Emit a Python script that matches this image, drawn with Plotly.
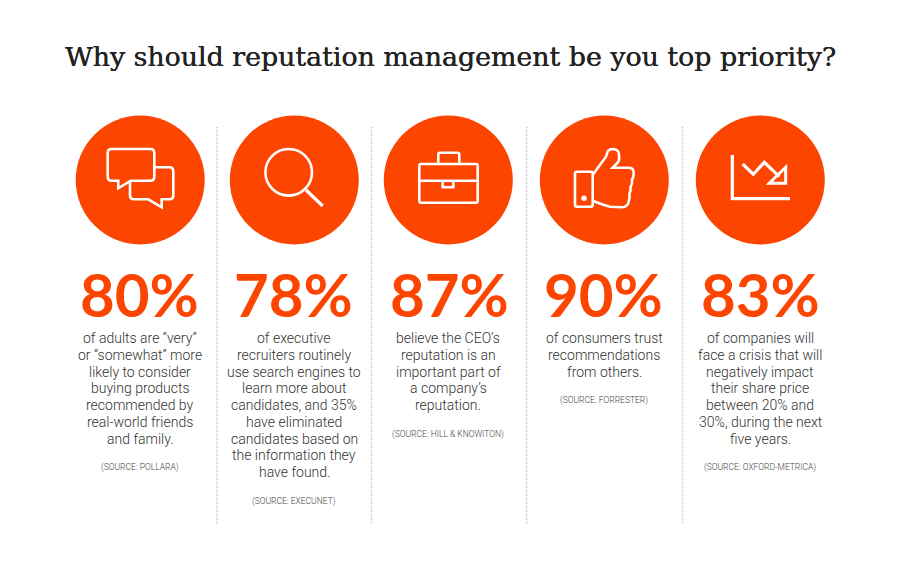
import plotly.graph_objects as go

TITLE = "Why should reputation management be you top priority?"
percent_values = [80, 78, 87, 90, 83]
descriptions = [
    ["of adults are “very”", "or “somewhat” more", "likely to consider", "buying products", "recommended by", "real-world friends", "and family."],
    ["of executive", "recruiters routinely", "use search engines to", "learn more about", "candidates, and 35%", "have eliminated", "candidates based on", "the information they", "have found."],
    ["believe the CEO’s", "reputation is an", "important part of", "a company’s", "reputation."],
    ["of consumers trust", "recommendations", "from others."],
    ["of companies will", "face a crisis that will", "negatively impact", "their share price", "between 20% and", "30%, during the next", "five years."],
]
sources = ["(SOURCE: POLLARA)", "(SOURCE: EXECUNET)", "(SOURCE: HILL & KNOWITON)", "(SOURCE: FORRESTER)", "(SOURCE: OXFORD-METRICA)"]

# layout (pixel canvas)
W, H = 900, 571
CENTERS = [140.2, 294.3, 448.3, 604.3, 760.3]
PCT_X = [139.5, 293, 449.5, 603.5, 760]
SEPARATORS = [217, 371.5, 526.7, 682.5]
ORANGE = "#FB4500"
LINE_H = 16.75

fig = go.Figure()
fig.add_trace(go.Scatter(x=CENTERS, y=[180] * 5, mode="markers", hoverinfo="skip",
                         marker=dict(size=129, color=ORANGE, line=dict(width=0))))

fig.add_annotation(x=450, y=56, text=TITLE, showarrow=False, xanchor="center", yanchor="middle",
                   font=dict(family="DejaVu Serif", size=26.8, color="#222222",
                             shadow="0.4px 0 0 #222222"))

for cx, px, v, lines, src in zip(CENTERS, PCT_X, percent_values, descriptions, sources):
    fig.add_annotation(x=px, y=294, text=f"{v}%", showarrow=False, xanchor="center", yanchor="middle",
                       font=dict(family="Lato", size=60, weight=700, color=ORANGE))
    y = 338
    for ln in lines:
        fig.add_annotation(x=cx, y=y, text=ln, showarrow=False, xanchor="center", yanchor="middle",
                           font=dict(family="Roboto", size=14, weight=300, color="#333333"))
        y += LINE_H
    fig.add_annotation(x=cx, y=y - LINE_H + 29, text=src, showarrow=False, xanchor="center", yanchor="middle",
                       font=dict(family="Roboto", size=8.5, weight=300, color="#444444"))

shapes = []
for sx in SEPARATORS:
    shapes.append(dict(type="line", x0=sx, x1=sx, y0=127, y1=525,
                       line=dict(color="#C8C8C8", width=1.6, dash="1px,1px")))

def icon(path, width=2.6, fill=None):
    return dict(type="path", path=path, line=dict(color="white", width=width),
                fillcolor=fill if fill else "rgba(0,0,0,0)")

# speech bubbles
shapes.append(icon("M111.7,149 L150.3,149 Q154.3,149 154.3,153 L154.3,176.7 Q154.3,180.7 150.3,180.7 L130.7,180.7 L118.3,188.3 L118.3,180.7 L111.7,180.7 Q107.7,180.7 107.7,176.7 L107.7,153 Q107.7,149 111.7,149 Z"))
shapes.append(icon("M154.3,167.3 L169.3,167.3 Q173.3,167.3 173.3,171.3 L173.3,195.3 Q173.3,199.3 169.3,199.3 L161.7,199.3 L161.7,207.3 L148.3,199.3 L134,199.3 Q130,199.3 130,195.3 L130,180.7"))
# magnifier
shapes.append(dict(type="circle", x0=265.4, x1=312, y0=149, y1=195.6, line=dict(color="white", width=2.6)))
shapes.append(dict(type="line", x0=306, y0=190, x1=322.7, y1=206, line=dict(color="white", width=3.2)))
# briefcase
shapes.append(icon("M421.3,164 L475.7,164 Q477.7,164 477.7,166 L477.7,200.7 Q477.7,202.7 475.7,202.7 L421.3,202.7 Q419.3,202.7 419.3,200.7 L419.3,166 Q419.3,164 421.3,164 Z"))
shapes.append(icon("M438.3,164 L438.3,154.7 Q438.3,152.7 440.3,152.7 L457.3,152.7 Q459.3,152.7 459.3,154.7 L459.3,164"))
shapes.append(icon("M419.3,180.7 L477.7,180.7"))
shapes.append(icon("M442.7,180.7 L442.7,187.3 L453.3,187.3 L453.3,180.7"))
# thumb
shapes.append(icon("M577,171.7 L590.7,171.7 Q592.7,171.7 592.7,173.7 L592.7,204.7 Q592.7,206.7 590.7,206.7 L577,206.7 Q575,206.7 575,204.7 L575,173.7 Q575,171.7 577,171.7 Z"))
shapes.append(icon("M593.3,174 L606,156.7 Q607,154 607.5,151.7 Q609,149 613.3,149 Q619,149.5 619,155 Q619.5,160 618.3,162 L612.7,167.7 L628.3,167.7 Q633.3,167.7 633.7,172 Q634,177 632,180 Q632.5,184 630.5,187 Q631,191 629.5,193.5 Q630,198 628.3,203.3 Q626,207.3 621.7,207.3 L610,206.7 Q600,204 593.3,201"))
shapes.append(dict(type="circle", x0=581.3, x1=586.7, y0=195.6, y1=201, fillcolor="white", line=dict(width=0)))
# declining chart
shapes.append(icon("M732.3,155 L732.3,198.7 L790,198.7", width=3.2))
shapes.append(icon("M742.7,164 L753.3,174.3 L764.3,162.3 L779.3,176.7", width=3.2))
shapes.append(icon("M785.7,167.3 L785.7,183.3 L769.3,183.3 Z", width=3))

fig.update_layout(
    width=W, height=H, margin=dict(l=0, r=0, t=0, b=0), showlegend=False,
    paper_bgcolor="white", plot_bgcolor="white", shapes=shapes,
    xaxis=dict(range=[0, W], visible=False, fixedrange=True),
    yaxis=dict(range=[H, 0], visible=False, fixedrange=True),
)
fig.write_html("out.html", config=dict(displayModeBar=False),
               post_script="document.body.style.margin='0';")
